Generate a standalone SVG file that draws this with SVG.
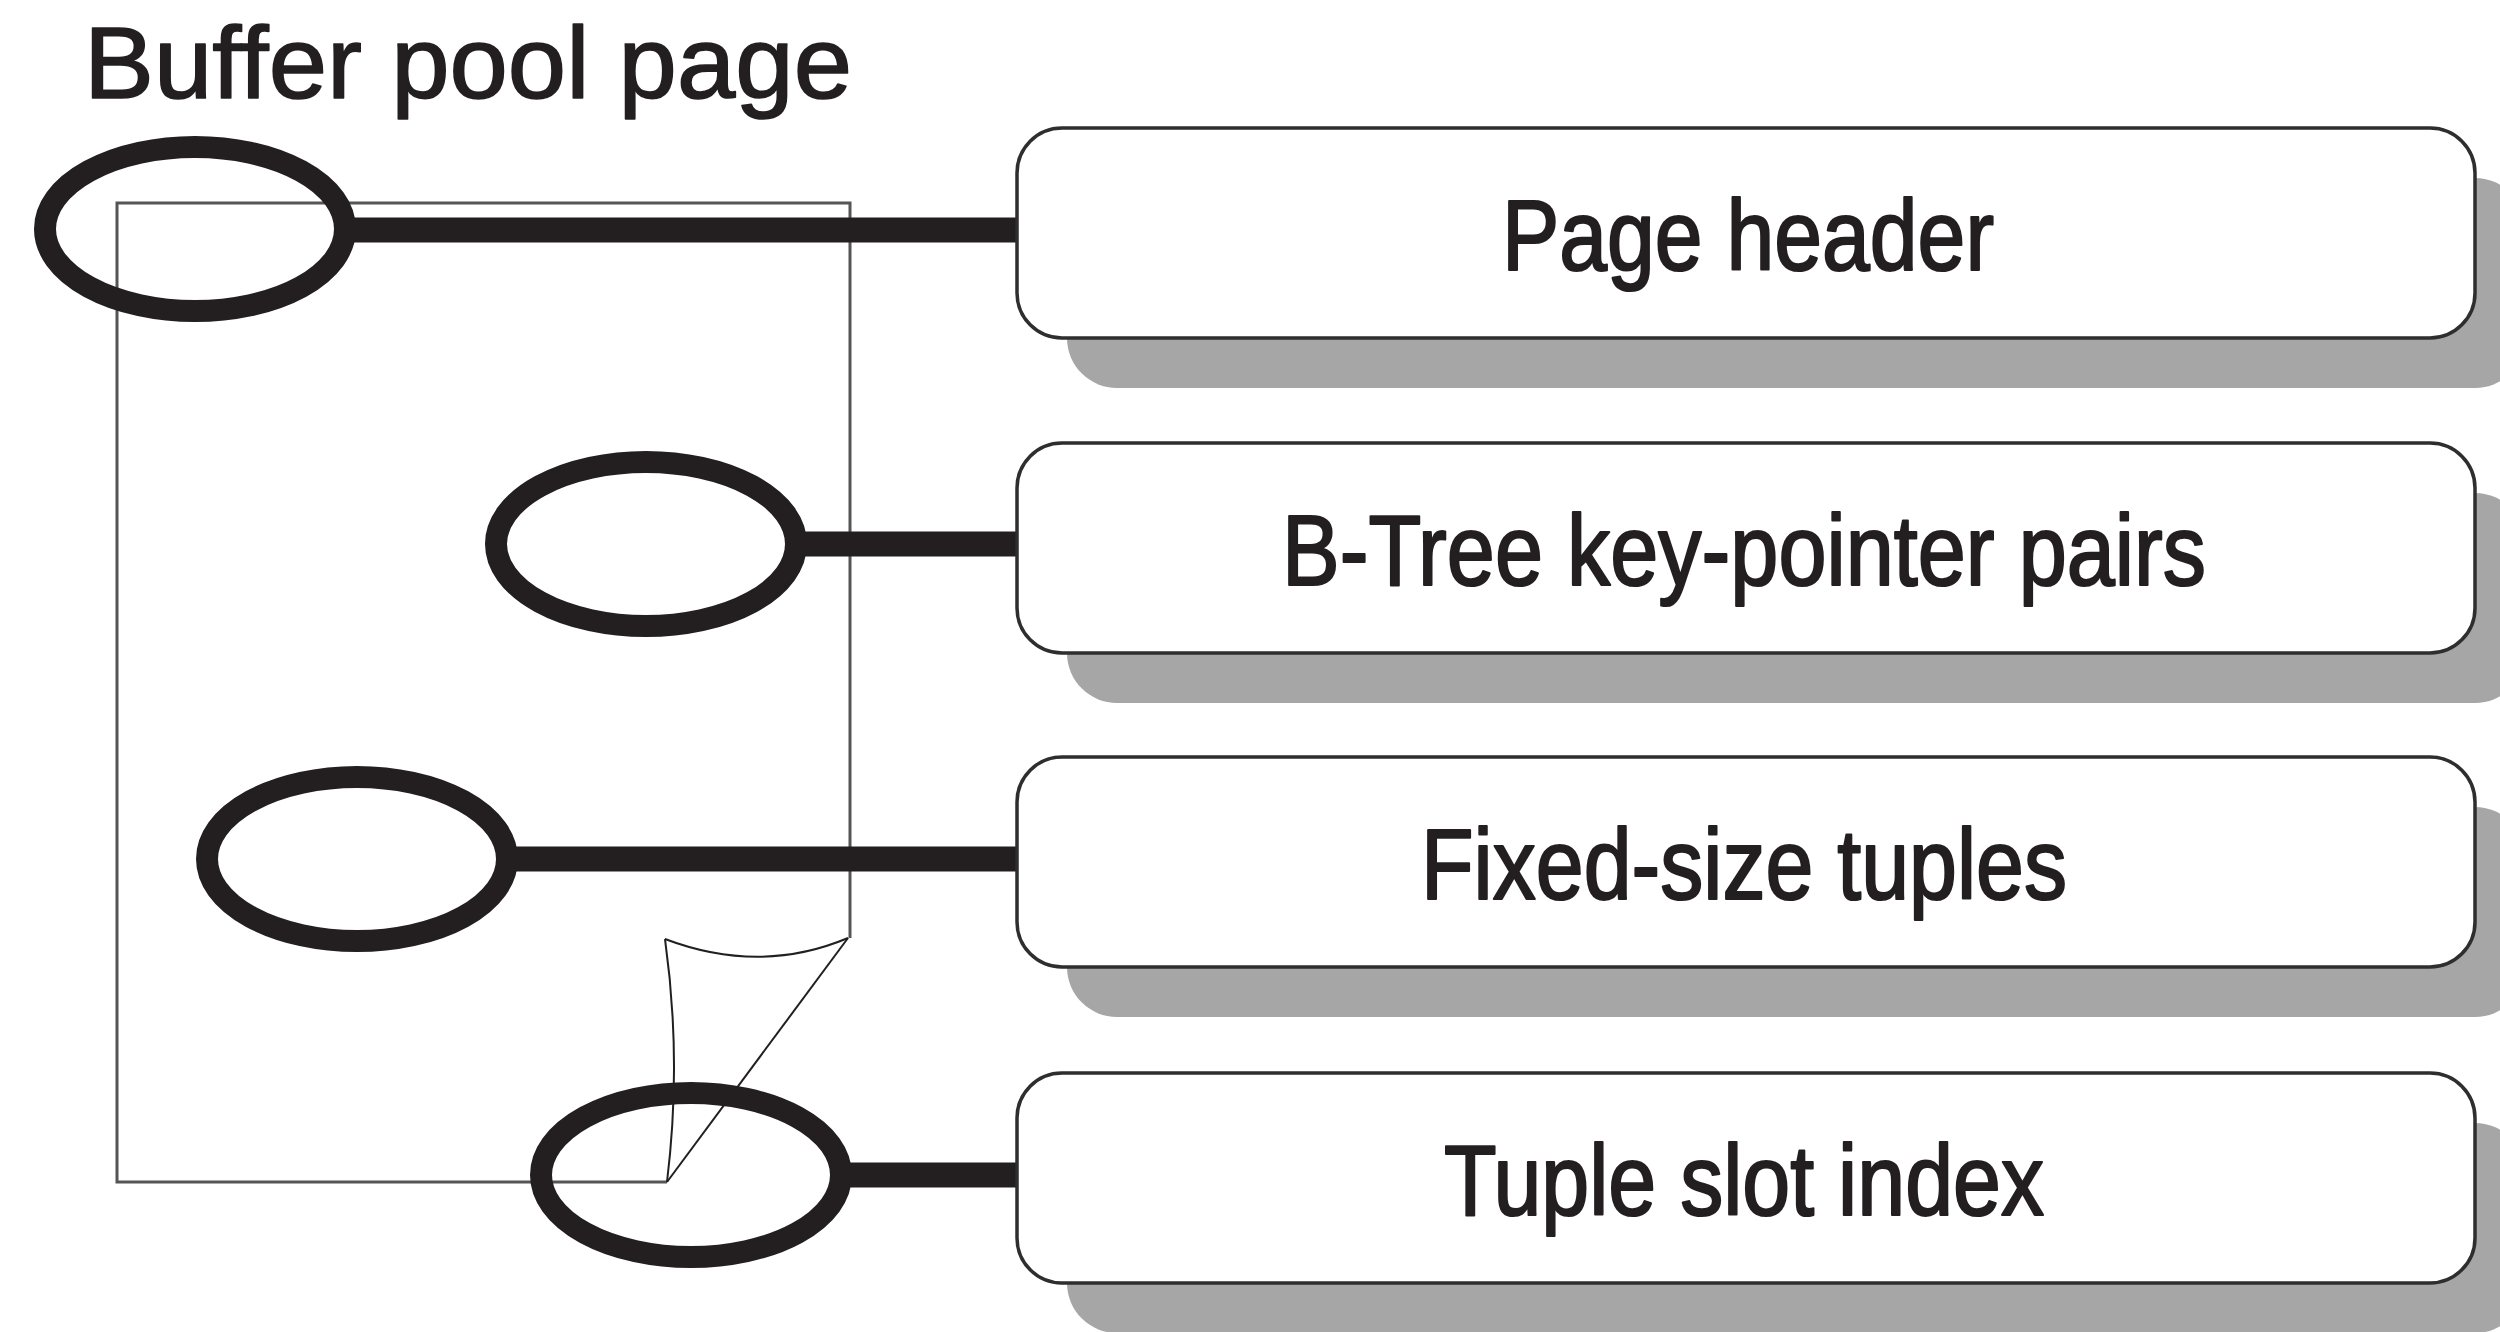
<svg xmlns="http://www.w3.org/2000/svg" width="2500" height="1332" viewBox="0 0 2500 1332">
  <style>
    .lbl { font-family: "Liberation Sans", Arial, Helvetica, sans-serif; font-size: 101px; fill: #231f20; stroke: #231f20; stroke-width: 2.2; stroke-linejoin: round; text-anchor: middle; }
    .title { font-family: "Liberation Sans", Arial, Helvetica, sans-serif; font-size: 102px; fill: #231f20; stroke: #231f20; stroke-width: 1.6; stroke-linejoin: round; }
    .box { fill: #ffffff; stroke: #2e2e2e; stroke-width: 3.5; }
    .shadow { fill: #a6a6a6; stroke: none; }
    .ring { fill: none; stroke: #231f20; stroke-width: 22; }
    .conn { stroke: #231f20; stroke-width: 25; fill: none; }
    .page { fill: none; stroke: #555555; stroke-width: 3; }
    .fold { fill: none; stroke: #231f20; stroke-width: 2; }
  </style>
  <rect x="0" y="0" width="2500" height="1332" fill="#ffffff"/>

  <text id="title" class="title" x="84" y="98" textLength="768" lengthAdjust="spacingAndGlyphs">Buffer pool page</text>

  <g id="page">
    <path class="page" d="M850,938 V203 H117 V1182 H667"/>
    <path class="fold" d="M848,938 L667,1182"/>
    <path class="fold" d="M665,939 Q760,975 848,938"/>
    <path class="fold" d="M665,939 Q682,1060 667,1182"/>
  </g>

  <g id="regions">
    <ellipse id="ring-header" class="ring" cx="195" cy="229" rx="150" ry="82"/>
    <ellipse id="ring-btree" class="ring" cx="646" cy="544" rx="150" ry="82"/>
    <ellipse id="ring-tuples" class="ring" cx="357" cy="859" rx="150" ry="82"/>
    <ellipse id="ring-slots" class="ring" cx="691" cy="1175" rx="150" ry="82"/>
  </g>

  <g id="connectors">
    <line class="conn" x1="345" y1="230" x2="1028" y2="230"/>
    <line class="conn" x1="796" y1="544" x2="1022" y2="544"/>
    <line class="conn" x1="507" y1="859" x2="1022" y2="859"/>
    <line class="conn" x1="841" y1="1175" x2="1022" y2="1175"/>
  </g>

  <g id="box-header">
    <rect class="shadow" x="1067" y="178" width="1458" height="210" rx="50"/>
    <rect class="box" x="1017" y="128" width="1458" height="210" rx="45"/>
    <text class="lbl" x="1748" y="270" textLength="492" lengthAdjust="spacingAndGlyphs">Page header</text>
  </g>
  <g id="box-btree">
    <rect class="shadow" x="1067" y="493" width="1458" height="210" rx="50"/>
    <rect class="box" x="1017" y="443" width="1458" height="210" rx="45"/>
    <text class="lbl" x="1744" y="585" textLength="924" lengthAdjust="spacingAndGlyphs">B-Tree key-pointer pairs</text>
  </g>
  <g id="box-tuples">
    <rect class="shadow" x="1067" y="807" width="1458" height="210" rx="50"/>
    <rect class="box" x="1017" y="757" width="1458" height="210" rx="45"/>
    <text class="lbl" x="1744" y="899" textLength="646" lengthAdjust="spacingAndGlyphs">Fixed-size tuples</text>
  </g>
  <g id="box-slots">
    <rect class="shadow" x="1067" y="1123" width="1458" height="210" rx="50"/>
    <rect class="box" x="1017" y="1073" width="1458" height="210" rx="45"/>
    <text class="lbl" x="1744" y="1215" textLength="600" lengthAdjust="spacingAndGlyphs">Tuple slot index</text>
  </g>
</svg>
